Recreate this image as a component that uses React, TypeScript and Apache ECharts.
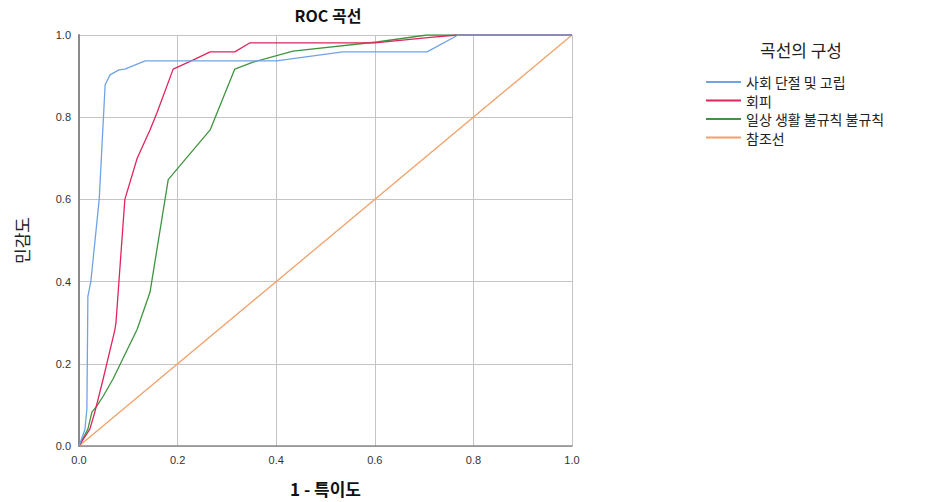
import React, { useEffect, useRef } from "react";
import * as echarts from "echarts";

const seriesNames = ["사회 단절 및 고립", "회피", "일상 생활 불규칙 불규칙", "참조선"];
const seriesColors = ["#6fa3e6", "#e0245e", "#3f943f", "#f4a068"];

const blueX = [0, 0.012, 0.016, 0.018, 0.024, 0.041, 0.053, 0.063, 0.081, 0.093, 0.134, 0.4, 0.535, 0.706, 0.769, 1];
const blueY = [0, 0.04, 0.09, 0.364, 0.4, 0.6, 0.879, 0.903, 0.915, 0.917, 0.937, 0.937, 0.959, 0.959, 1, 1];

const redX = [0, 0.022, 0.032, 0.049, 0.073, 0.075, 0.093, 0.118, 0.144, 0.158, 0.191, 0.231, 0.266, 0.316, 0.347, 0.6, 0.718, 0.767, 1];
const redY = [0, 0.041, 0.082, 0.163, 0.284, 0.3, 0.6, 0.7, 0.769, 0.81, 0.917, 0.939, 0.959, 0.959, 0.981, 0.981, 0.995, 1, 1];

const greenX = [0, 0.018, 0.026, 0.036, 0.049, 0.069, 0.118, 0.144, 0.181, 0.266, 0.316, 0.353, 0.434, 0.604, 0.706, 1];
const greenY = [0, 0.041, 0.082, 0.097, 0.121, 0.163, 0.284, 0.374, 0.648, 0.769, 0.917, 0.934, 0.961, 0.983, 1, 1];

const refX = [0, 1];
const refY = [0, 1];

const xsList = [blueX, redX, greenX, refX];
const ysList = [blueY, redY, greenY, refY];

const FONT = "'Liberation Sans', Arial, 'Noto Sans CJK KR', sans-serif";
const KFONT = "'Noto Sans CJK KR', 'Liberation Sans', sans-serif";

export default function App() {
  const ref = useRef<HTMLDivElement>(null);
  useEffect(() => {
    if (!ref.current) return;
    const chart = echarts.init(ref.current, null, { renderer: "svg" });
    const series = seriesNames.map((name, i) => ({
      name,
      type: "line",
      symbol: "none",
      showSymbol: false,
      data: xsList[i].map((x, j) => [x, ysList[i][j]]),
      lineStyle: { color: seriesColors[i], width: 1.3 },
      itemStyle: { color: seriesColors[i] },
      z: 10 - i,
    }));
    chart.setOption({
      animation: false,
      backgroundColor: "#ffffff",
      title: {
        text: "ROC 곡선",
        left: 328,
        textAlign: "center",
        top: 7,
        padding: 0,
        textStyle: { fontFamily: KFONT, fontSize: 16, fontWeight: "bold", color: "#111" },
      },
      graphic: [
        {
          type: "text",
          left: 760,
          top: 41,
          style: { text: "곡선의 구성", fontFamily: KFONT, fontSize: 17, fill: "#222" },
        },
      ],
      legend: {
        orient: "vertical",
        left: 705,
        top: 75,
        padding: 0,
        itemWidth: 35,
        itemHeight: 12,
        itemGap: 4.5,
        itemStyle: { opacity: 0 },
        textStyle: { fontFamily: KFONT, fontSize: 14, lineHeight: 14, color: "#222" },
        data: seriesNames,
      },
      grid: { left: 79, right: 364, top: 35, bottom: 55 },
      xAxis: {
        type: "value",
        min: 0,
        max: 1,
        interval: 0.2,
        name: "1 - 특이도",
        nameLocation: "middle",
        nameGap: 34,
        nameTextStyle: { fontFamily: KFONT, fontSize: 17, fontWeight: "bold", color: "#111" },
        axisLine: { show: true, lineStyle: { color: "#8a8a8a", width: 1.5 } },
        axisTick: { show: false },
        axisLabel: {
          formatter: (v: number) => v.toFixed(1),
          fontFamily: FONT,
          fontSize: 11,
          color: "#333",
          margin: 8,
        },
        splitLine: { show: true, lineStyle: { color: "#c4c4c4", width: 1 } },
      },
      yAxis: {
        type: "value",
        min: 0,
        max: 1,
        interval: 0.2,
        name: "민감도",
        nameLocation: "middle",
        nameGap: 49,
        nameTextStyle: { fontFamily: KFONT, fontSize: 17, color: "#222" },
        axisLine: { show: true, lineStyle: { color: "#8a8a8a", width: 2 } },
        axisTick: { show: false },
        axisLabel: {
          formatter: (v: number) => v.toFixed(1),
          fontFamily: FONT,
          fontSize: 11,
          color: "#333",
          margin: 8,
        },
        splitLine: { show: true, lineStyle: { color: "#c4c4c4", width: 1 } },
      },
      series,
    });
    return () => chart.dispose();
  }, []);
  return <div ref={ref} style={{ width: 936, height: 502, position: "absolute", left: 0, top: 0 }} />;
}
